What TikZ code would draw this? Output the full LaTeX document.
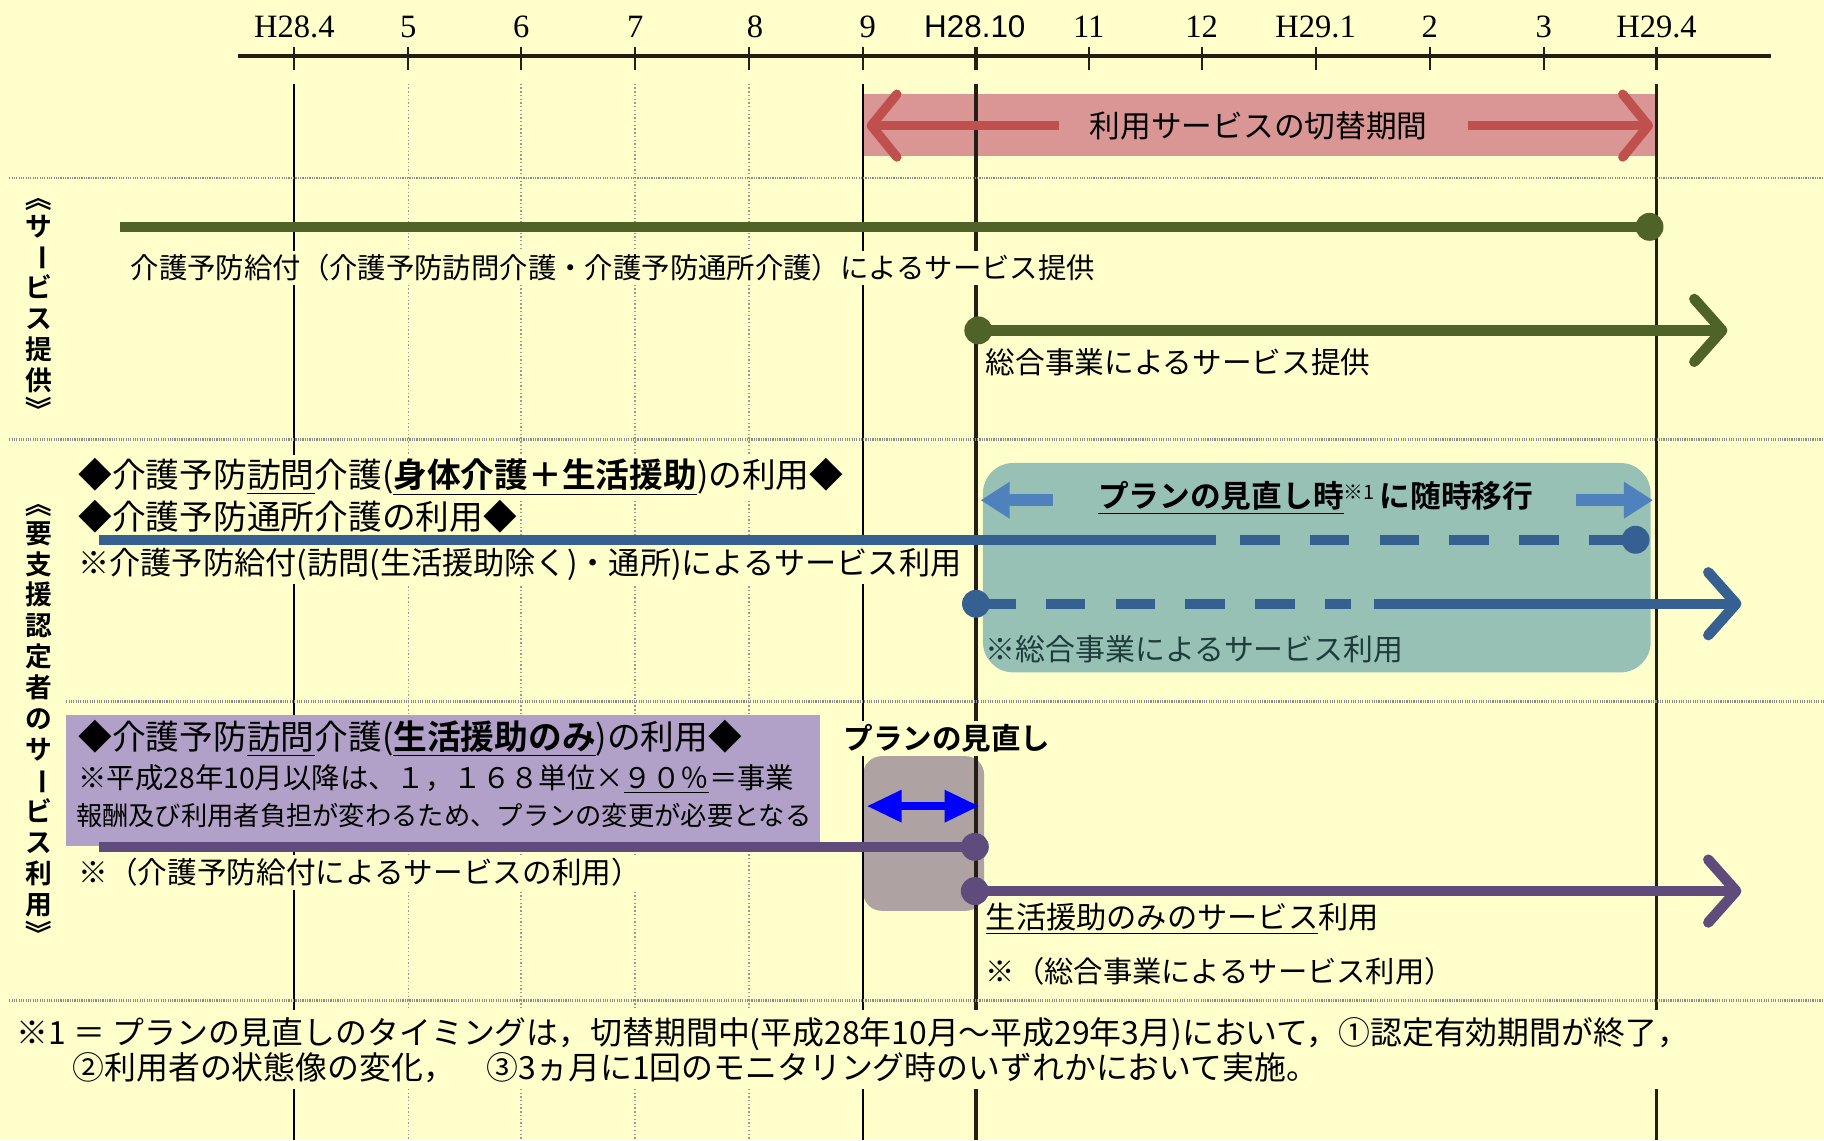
\documentclass[tikz,border=0pt]{standalone}
\usepackage{fontspec}
\usepackage{graphicx}
\setmainfont{Noto Sans CJK JP}[BoldFont={Noto Sans CJK JP Bold}]
\newfontfamily\serifnum{Liberation Serif}
\newfontfamily\sansnum{Liberation Sans}
\usetikzlibrary{arrows.meta}
\definecolor{bg}{HTML}{FFFFCC}
\definecolor{cRedBand}{HTML}{D99694}
\definecolor{cRedArrow}{HTML}{C0504D}
\definecolor{cOlive}{HTML}{4F6228}
\definecolor{cNavy}{HTML}{366092}
\definecolor{cLightBlue}{HTML}{4F81BD}
\definecolor{cTealBox}{HTML}{96C1B4}
\definecolor{cTealText}{HTML}{1E3C3C}
\definecolor{cLilac}{HTML}{B1A0C7}
\definecolor{cPlum}{HTML}{5F4B7C}
\definecolor{cMauve}{HTML}{AEA3A2}
\definecolor{cSep}{HTML}{8C8C8C}
\definecolor{cAxis}{HTML}{231F14}
\newcommand\fsz[1]{\fontsize{#1}{#1}\selectfont}
\newcommand\ph{\phantom{サ}}
\begin{document}
\begin{tikzpicture}[x=0.5pt,y=-0.5pt,
  txt/.style={anchor=west,inner xsep=1pt,inner ysep=1.5pt,fill=bg,text=black},
  plain/.style={anchor=west,inner xsep=1pt,inner ysep=1pt},
  month/.style={inner sep=1pt,font=\serifnum\fsz{14pt}},
  vsolid/.style={draw=black,line width=0.75pt},
  vthick/.style={draw=cAxis,line width=1.5pt},
  vdot/.style={draw=gray!80,line width=0.6pt,densely dotted},
  sepline/.style={draw=cSep,line width=1.1pt,dash pattern=on 0.5pt off 0.5pt},
  dot/.style={circle,inner sep=0pt,minimum size=12pt},
  gline/.style={draw=cOlive,line width=4.5pt},
  bline/.style={draw=cNavy,line width=4.5pt},
  pline/.style={draw=cPlum,line width=4.5pt},
  dashpat/.style={dash pattern=on 17pt off 13pt},
  chev/.style={-{Straight Barb[length=12pt,width=27pt,round]}},
  vlabel/.style={font=\fontsize{11.5pt}{13.3pt}\selectfont\bfseries,align=center,inner sep=0pt},
  vrot/.style={font=\fsz{11.5pt}\bfseries,inner sep=0pt,rotate=-90}
]
\fill[bg] (0,0) rectangle (1568,980);
\useasboundingbox (0,0) rectangle (1568,980);

% background boxes
\fill[cRedBand] (742,81) rectangle (1424,134);
\fill[cTealBox,rounded corners=13pt] (845,398) rectangle (1419,578);
\fill[cMauve,rounded corners=8pt] (742,650) rectangle (846,783);

% vertical grid lines
\foreach \x in {351,448,546,644} \draw[vdot] (\x,72) -- (\x,980);
\foreach \x in {253,742} \draw[vsolid] (\x,72) -- (\x,980);
\foreach \x in {839,1424} \draw[vthick] (\x,72) -- (\x,980);

% time axis
\draw[draw=cAxis,line width=1.5pt] (205,48) -- (1522,48);
\foreach \x in {253,351,448,546,644,742,936,1033,1131,1229,1327} \draw[draw=cAxis,line width=0.8pt] (\x,40) -- (\x,60);
\foreach \x in {839,1424} \draw[draw=cAxis,line width=1.5pt] (\x,40) -- (\x,60);

\node[month] (m1) at (253,23) {H28.4};
\node[month] (m2) at (351,23) {5};
\node[month] (m3) at (448,23) {6};
\node[month] (m4) at (546,23) {7};
\node[month] (m5) at (649,23) {8};
\node[month] (m6) at (746,23) {9};
\node[inner sep=1pt,font=\sansnum\fsz{13.5pt}] (m7) at (838,23) {H28.10};
\node[month] (m8) at (936,23) {11};
\node[month] (m9) at (1033,23) {12};
\node[month] (m10) at (1131,23) {H29.1};
\node[month] (m11) at (1229,23) {2};
\node[month] (m12) at (1327,23) {3};
\node[month] (m13) at (1424,23) {H29.4};

% separators
\draw[sepline] (8,153) -- (1568,153);
\draw[sepline] (8,378) -- (1568,378);
\draw[sepline] (57,603) -- (1568,603);
\draw[sepline] (8,860) -- (1568,860);

% purple box
\fill[cLilac] (57,615) rectangle (705,727);

% section labels (vertical writing)
\node[vlabel] (lab1) at (33,261) {\ph\\サ\\\ph\\ビ\\ス\\提\\供\\\ph};
\node[vrot] (lab1a) at (33,170) {《};
\node[vrot] (lab1b) at (33,222) {ー};
\node[vrot] (lab1c) at (33,352) {》};
\node[vlabel] (lab2) at (33,618) {\ph\\要\\支\\援\\認\\定\\者\\の\\サ\\\ph\\ビ\\ス\\利\\用\\\ph};
\node[vrot] (lab2a) at (33,433) {《};
\node[vrot] (lab2b) at (33,672) {ー};
\node[vrot] (lab2c) at (33,803) {》};

% red switching-period arrows
\node[inner sep=1pt,font=\fsz{13.2pt}] (tred) at (1082,108) {利用サービスの切替期間};
\coordinate (r1s) at (910,108);
\coordinate (r1e) at (745,108);
\coordinate (r2s) at (1262,108);
\coordinate (r2e) at (1421,108);
\draw[draw=cRedArrow,line width=4pt,-{Straight Barb[length=11pt,width=27pt,round]}] (r1s) -- (r1e);
\draw[draw=cRedArrow,line width=4pt,-{Straight Barb[length=11pt,width=27pt,round]}] (r2s) -- (r2e);

% section 1: service provision
\node[txt,font=\fsz{12.2pt}] (tg1) at (110,230) {介護予防給付（介護予防訪問介護・介護予防通所介護）によるサービス提供};
\coordinate (g1s) at (103,195);
\node[dot,fill=cOlive] (g1e) at (1418,195) {};
\draw[gline] (g1s) -- (g1e.center);

\node[txt,font=\fsz{12.75pt}] (tg2) at (845,311) {総合事業によるサービス提供};
\node[dot,fill=cOlive] (g2s) at (841,284) {};
\coordinate (g2e) at (1485,284);
\draw[gline,chev] (g2s.center) -- (g2e);

% section 2: users (visit + day care)
\node[txt,font=\fsz{14.5pt}] (tb1) at (65,410) {◆介護予防\underline{訪問}介護(\textbf{\underline{身体介護＋生活援助}})の利用◆};
\node[txt,font=\fsz{14.5pt}] (tb2) at (65,446) {◆介護予防\underline{通所}介護の利用◆};
\node[txt,font=\fsz{13.4pt}] (tb3) at (65,485) {※介護予防給付(訪問(生活援助除く)・通所)によるサービス利用};

\node[inner sep=1pt,font=\fsz{13.2pt}] (tt1) at (1131,428) {\textbf{\underline{プランの見直し時}}\raisebox{0.45ex}{\fsz{8.5pt}※1}\,\textbf{に随時移行}};
\coordinate (lb1s) at (905,430);
\coordinate (lb1e) at (843,430);
\coordinate (lb2s) at (1355,430);
\coordinate (lb2e) at (1421,430);
\draw[draw=cLightBlue,line width=5pt,-{Triangle[length=12.5pt,width=15pt]}] (lb1s) -- (lb1e);
\draw[draw=cLightBlue,line width=5pt,-{Triangle[length=12.5pt,width=15pt]}] (lb2s) -- (lb2e);

\coordinate (b1s) at (85,464);
\coordinate (b1m) at (1045,464);
\coordinate (b1d) at (1066,464);
\node[dot,fill=cNavy] (b1e) at (1406,464) {};
\draw[bline] (b1s) -- (b1m);
\draw[bline,dashpat] (b1d) -- (b1e.center);

\node[dot,fill=cNavy] (b2s) at (839,519) {};
\coordinate (b2m) at (1161,519);
\coordinate (b2n) at (1181,519);
\coordinate (b2e) at (1497,519);
\draw[bline,dashpat] (b2s.center) -- (b2m);
\draw[bline,chev] (b2n) -- (b2e);

\node[plain,font=\fsz{12.85pt},text=cTealText] (tt2) at (845,558) {※総合事業によるサービス利用};

% section 3: users (daily-life support only)
\node[plain,font=\fsz{14.5pt}] (tp1) at (65,635) {◆介護予防\underline{訪問}介護(\textbf{\underline{生活援助のみ}})の利用◆};
\node[plain,font=\fsz{12.2pt}] (tp2) at (65,670) {※平成28年10月以降は、１，１６８単位×\underline{９０％}＝事業};
\node[plain,font=\fsz{11.3pt}] (tp3) at (63,701) {報酬及び利用者負担が変わるため、プランの変更が必要となる};

\node[txt,font=\fsz{12.75pt}] (tp4) at (65,750) {※（介護予防給付によるサービスの利用）};

\node[inner sep=1.5pt,fill=bg,font=\fsz{12.7pt}\bfseries] (tplan) at (814,635) {プランの見直し};
\coordinate (dd1) at (745,693);
\coordinate (dd2) at (842,693);
\draw[draw=blue,line width=3.5pt,{Triangle[length=15pt,width=13pt]}-{Triangle[length=15pt,width=13pt]}] (dd1) -- (dd2);

\coordinate (p1s) at (85,728);
\node[dot,fill=cPlum] (p1e) at (838,728) {};
\draw[pline] (p1s) -- (p1e.center);

\node[dot,fill=cPlum] (p2s) at (838,766) {};
\coordinate (p2e) at (1497,766);
\draw[pline,chev] (p2s.center) -- (p2e);

\node[plain,font=\fsz{13pt}] (tp5) at (845,790) {\underline{生活援助のみのサービス}利用};
\node[plain,font=\fsz{12.6pt}] (tp6) at (845,835) {※（総合事業によるサービス利用）};

% footnote
\node[anchor=north west,align=left,fill=bg,inner xsep=2pt,inner ysep=3pt,font=\fontsize{13.7pt}{15pt}\selectfont] (foot) at (10,868)
 {※1 ＝ プランの見直しのタイミングは，切替期間中(平成28年10月～平成29年3月)において，①認定有効期間が終了，\\
  \hspace*{24pt}②利用者の状態像の変化，　③3ヵ月に1回のモニタリング時のいずれかにおいて実施。};
\end{tikzpicture}
\end{document}
